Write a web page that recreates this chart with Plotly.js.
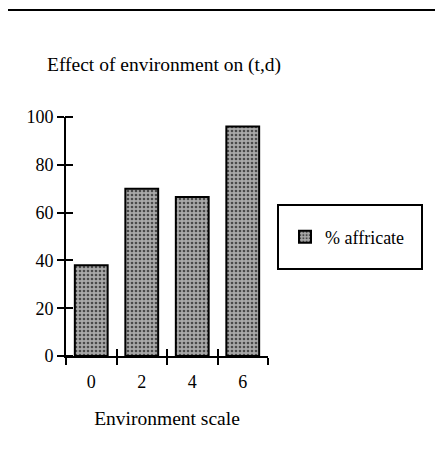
<!DOCTYPE html>
<html>
<head>
<meta charset="utf-8">
<script src="https://cdn.plot.ly/plotly-3.0.1.min.js"></script>
<style>html,body{margin:0;padding:0;background:#fff;}#chart{width:435px;height:458px;}</style>
</head>
<body>
<div id="chart"></div>
<script>
// Data
var categories = ['0', '2', '4', '6'];
var affricate = [38, 70, 66.5, 96];
var seriesName = '% affricate';
var yTicks = [0, 20, 40, 60, 80, 100];
var chartTitle = 'Effect of environment on (t,d)';
var xTitle = 'Environment scale';

var font = 'Liberation Serif, Times New Roman, serif';
var L = 66, R = 268, T = 117, B = 356;
function px(x){ return (x - L) / (R - L); }
function py(y){ return (B - y) / (B - T); }

var bars = {
  type: 'bar',
  x: categories,
  y: affricate,
  name: seriesName,
  width: 0.65,
  marker: {
    color: '#9e9e9e',
    line: {color: '#000', width: 2},
    pattern: {shape: '.', fgcolor: '#4a4a4a', bgcolor: '#a9a9a9', size: 4, solidity: 0.35}
  },
  hoverinfo: 'skip'
};
var ghostY = {
  type: 'bar', x: categories, y: affricate, xaxis: 'x', yaxis: 'y2',
  marker: {color: 'rgba(0,0,0,0)'}, showlegend: false, hoverinfo: 'skip'
};
var ghostX = {
  type: 'bar', x: categories, y: affricate, xaxis: 'x2', yaxis: 'y',
  marker: {color: 'rgba(0,0,0,0)'}, showlegend: false, hoverinfo: 'skip'
};

var layout = {
  width: 435, height: 458,
  paper_bgcolor: '#fff', plot_bgcolor: '#fff',
  margin: {l: L, r: 435 - R, t: T, b: 458 - B, pad: 0},
  font: {family: font, size: 18, color: '#000'},
  barmode: 'overlay',
  title: {
    text: chartTitle, font: {family: font, size: 19.5, color: '#000'},
    x: 47 / 435, xanchor: 'left', xref: 'container',
    y: 1 - 64 / 458, yanchor: 'middle', yref: 'container'
  },
  showlegend: true,
  legend: {
    x: px(285), xanchor: 'left', y: py(237), yanchor: 'middle',
    bgcolor: 'rgba(0,0,0,0)', borderwidth: 0,
    font: {family: font, size: 18, color: '#000'}
  },
  xaxis: {
    type: 'category', categoryorder: 'array', categoryarray: categories,
    showline: true, linecolor: '#000', linewidth: 2,
    ticks: 'outside', tickson: 'boundaries', ticklen: 7, tickwidth: 2, tickcolor: '#000',
    ticklabelstandoff: 8,
    showgrid: false, zeroline: false,
    tickfont: {family: font, size: 18, color: '#000'},
    title: {text: xTitle, font: {family: font, size: 19.5, color: '#000'}, standoff: 21},
    fixedrange: true
  },
  xaxis2: {
    type: 'category', categoryorder: 'array', categoryarray: categories,
    overlaying: 'x', anchor: 'y', side: 'bottom',
    ticks: 'inside', tickson: 'boundaries', ticklen: 7, tickwidth: 2, tickcolor: '#000',
    showticklabels: false, showline: false, showgrid: false, zeroline: false
  },
  yaxis: {
    range: [0, 100], tickvals: yTicks,
    showline: true, linecolor: '#000', linewidth: 2,
    ticks: 'outside', ticklen: 7, tickwidth: 2, tickcolor: '#000',
    showgrid: false, zeroline: false,
    tickfont: {family: font, size: 18, color: '#000'},
    fixedrange: true
  },
  yaxis2: {
    range: [0, 100], tickvals: yTicks, overlaying: 'y', anchor: 'free', position: px(73), side: 'left',
    ticks: 'outside', ticklen: 8, tickwidth: 2, tickcolor: '#000',
    showticklabels: false, showline: false, showgrid: false, zeroline: false
  },
  shapes: [
    {type: 'line', xref: 'paper', yref: 'paper', x0: px(8), x1: px(435), y0: py(10), y1: py(10),
     line: {color: '#000', width: 2}},
    {type: 'rect', xref: 'paper', yref: 'paper', x0: px(278), x1: px(422), y0: py(269), y1: py(205),
     line: {color: '#000', width: 2}, fillcolor: 'rgba(0,0,0,0)'}
  ]
};

Plotly.newPlot('chart', [bars, ghostY, ghostX], layout, {displayModeBar: false, staticPlot: true});
</script>
</body>
</html>
